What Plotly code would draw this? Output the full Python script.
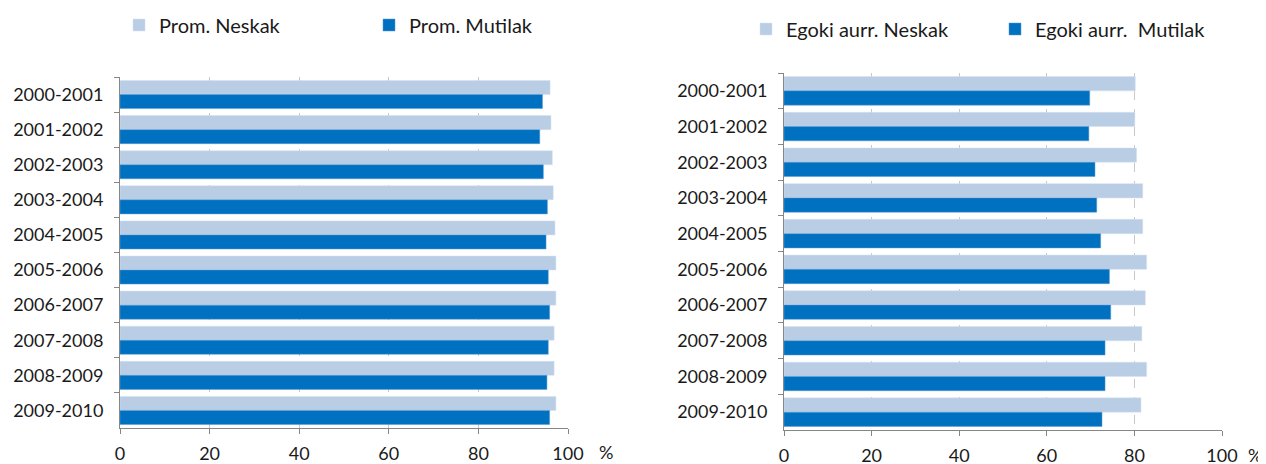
import plotly.graph_objects as go

years = ["2000-2001", "2001-2002", "2002-2003", "2003-2004", "2004-2005",
         "2005-2006", "2006-2007", "2007-2008", "2008-2009", "2009-2010"]

prom_neskak = [96.0, 96.2, 96.5, 96.7, 97.1, 97.3, 97.3, 96.9, 96.9, 97.3]
prom_mutilak = [94.3, 93.7, 94.5, 95.4, 95.1, 95.6, 95.9, 95.6, 95.3, 95.9]

egoki_neskak = [80.2, 80.1, 80.5, 81.9, 81.9, 82.8, 82.5, 81.7, 82.8, 81.5]
egoki_mutilak = [69.8, 69.6, 71.0, 71.4, 72.3, 74.3, 74.6, 73.3, 73.3, 72.6]

x_ticks = [0, 20, 40, 60, 80, 100]

light = "#B9CDE5"
dark = "#0070C0"
font_name = "Lato"
W, H = 1266, 464
off = 8  # page body margin


def px(x):
    return (x - off) / W


def py(y):
    return 1 - (y - off) / H


fig = go.Figure()

fig.add_trace(go.Bar(y=years, x=prom_neskak, orientation="h", name="Prom. Neskak",
                     marker=dict(color=light, line=dict(color="#D5E1F0", width=0.5)),
                     xaxis="x", yaxis="y", legend="legend"))
fig.add_trace(go.Bar(y=years, x=prom_mutilak, orientation="h", name="Prom. Mutilak",
                     marker=dict(color=dark, line=dict(color="#5A9BD5", width=0.5)),
                     xaxis="x", yaxis="y", legend="legend"))
fig.add_trace(go.Bar(y=years, x=egoki_neskak, orientation="h", name="Egoki aurr. Neskak",
                     marker=dict(color=light, line=dict(color="#D5E1F0", width=0.5)),
                     xaxis="x2", yaxis="y2", legend="legend2"))
fig.add_trace(go.Bar(y=years, x=egoki_mutilak, orientation="h", name="Egoki aurr.  Mutilak",
                     marker=dict(color=dark, line=dict(color="#5A9BD5", width=0.5)),
                     xaxis="x2", yaxis="y2", legend="legend2"))

xax = dict(range=[0, 100], tickvals=x_ticks, showgrid=True, gridcolor="#C8C8C8",
           griddash="dash", gridwidth=1, showline=True, linecolor="#868686",
           ticks="outside", ticklen=5, tickcolor="#868686", zeroline=False,
           tickfont=dict(size=18, color="#1a1a1a"), ticklabelstandoff=4,
           automargin=False, fixedrange=True)
yax = dict(autorange="reversed", type="category", showline=True, linecolor="#868686",
           ticks="outside", ticklen=5, tickcolor="#868686", tickson="boundaries",
           showgrid=False, tickfont=dict(size=18, color="#1a1a1a"),
           ticklabelstandoff=12, automargin=False, fixedrange=True)

fig.update_layout(
    width=W, height=H,
    margin=dict(l=0, r=0, t=0, b=0, autoexpand=False),
    paper_bgcolor="white", plot_bgcolor="white",
    font=dict(family=font_name, size=18, color="#1a1a1a"),
    barmode="group", bargap=0.2, bargroupgap=0.0,
    xaxis=dict(xax, domain=[px(120), px(568)], anchor="y"),
    yaxis=dict(yax, domain=[py(428), py(77)], anchor="x"),
    xaxis2=dict(xax, domain=[px(784), px(1222)], anchor="y2"),
    yaxis2=dict(yax, domain=[py(430), py(73)], anchor="x2"),
    showlegend=True,
    legend=dict(orientation="h", x=px(119), y=py(25), xanchor="left", yanchor="middle",
                entrywidth=205, entrywidthmode="pixels", font=dict(size=20),
                bgcolor="rgba(0,0,0,0)", traceorder="normal"),
    legend2=dict(orientation="h", x=px(746), y=py(29), xanchor="left", yanchor="middle",
                 entrywidth=204, entrywidthmode="pixels", font=dict(size=20),
                 bgcolor="rgba(0,0,0,0)", traceorder="normal"),
    annotations=[
        dict(text="%", x=px(606), y=py(452), xref="paper", yref="paper",
             xanchor="center", yanchor="middle", showarrow=False, font=dict(size=18)),
        dict(text="%", x=px(1255), y=py(455), xref="paper", yref="paper",
             xanchor="center", yanchor="middle", showarrow=False, font=dict(size=18)),
    ],
)

fig.write_html("out.html")
